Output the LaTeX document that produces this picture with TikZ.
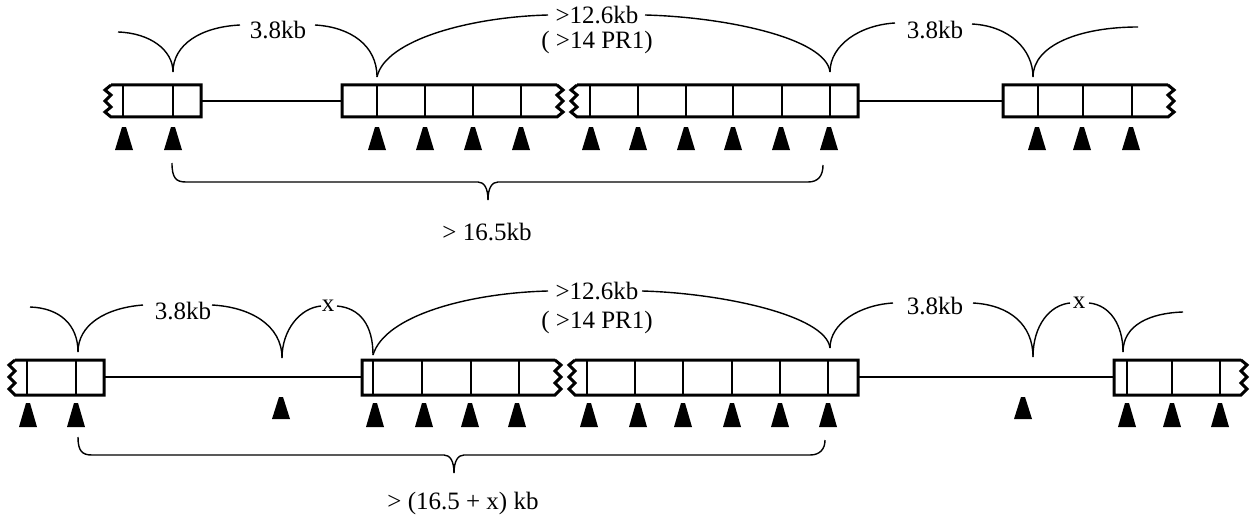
\documentclass[tikz,border=0pt]{standalone}
\usepackage{fontspec}
\setmainfont{Liberation Serif}
\begin{document}
\begin{tikzpicture}[x=0.5pt,y=-0.5pt,
  box/.style={line width=1.5pt,line join=miter},
  sep/.style={line width=1.2pt},
  wire/.style={line width=1.2pt},
  arc/.style={line width=0.7pt},
  lab/.style={font=\fontsize{12.5}{14}\selectfont,inner sep=0pt}]
\useasboundingbox (0,0) rectangle (1257,519);

% ===================== Row 1 =====================
% boxes
\draw[box] (111,85) -- (201,85) -- (201,117) -- (111,117) -- ++(-6,-5) -- ++(6,-5) -- ++(-6,-6) -- ++(6,-6) -- ++(-6,-5) -- ++(6,-5);
\draw[box] (557,85) -- (342,85) -- (342,117) -- (557,117) -- ++(6,-5) -- ++(-6,-5) -- ++(6,-6) -- ++(-6,-6) -- ++(6,-5) -- ++(-6,-5);
\draw[box] (577,85) -- (858,85) -- (858,117) -- (577,117) -- ++(-6,-5) -- ++(6,-5) -- ++(-6,-6) -- ++(6,-6) -- ++(-6,-5) -- ++(6,-5);
\draw[box] (1168,85) -- (1003,85) -- (1003,117) -- (1168,117) -- ++(6,-5) -- ++(-6,-5) -- ++(6,-6) -- ++(-6,-6) -- ++(6,-5) -- ++(-6,-5);
\foreach \x in {123,173,377,425,473,521,590,638,686,733,782,830,1038,1083,1132}
  \draw[sep] (\x,85) -- (\x,117);
\draw[wire] (201,101) -- (342,101);
\draw[wire] (858,101) -- (1003,101);
% triangles
\foreach \x in {124,173,377,425,473,521,591,638,686,733,781,829,1037,1082,1131}
  \fill (\x-9,150) -- (\x-2,127) -- (\x+2,127) -- (\x+9,150) -- cycle;
% labels
\node[lab] (a1) at (278,30) {3.8kb};
\node[lab] (b1) at (597,15) {>12.6kb};
\node[lab] (b1p) at (597,42) {( >14 PR1)};
\node[lab] (c1) at (935,30) {3.8kb};
\node[lab] (d1) at (487,232) {> 16.5kb};
% curves
\draw[arc] (118,32) .. controls (150,33) and (173,50) .. (173,72);
\draw[arc] (173,72) .. controls (173,45) and (200,27) .. (240,25);
\draw[arc] (315,25) .. controls (350,27) and (377,45) .. (377,77);
\draw[arc] (377,77) .. controls (385,40) and (470,17) .. (548,15);
\draw[arc] (645,15) .. controls (725,17) and (826,38) .. (830,72);
\draw[arc] (830,72) .. controls (830,45) and (860,25) .. (895,23);
\draw[arc] (972,24) .. controls (1010,26) and (1033,50) .. (1033,77);
\draw[arc] (1033,77) .. controls (1033,45) and (1080,27) .. (1138,27);
% brace
\draw[arc] (172,163) .. controls (172,178) and (176,182) .. (186,182) -- (478,182)
  .. controls (484,182) and (488,188) .. (488,200);
\draw[arc] (488,200) .. controls (488,188) and (492,182) .. (498,182) -- (808,182)
  .. controls (818,182) and (823,176) .. (823,165);

% ===================== Row 2 =====================
\draw[box] (15,360) -- (104,360) -- (104,395) -- (15,395) -- ++(-6,-6) -- ++(6,-6) -- ++(-6,-6) -- ++(6,-6) -- ++(-6,-6) -- ++(6,-5);
\draw[box] (555,360) -- (362,360) -- (362,395) -- (555,395) -- ++(6,-6) -- ++(-6,-6) -- ++(6,-6) -- ++(-6,-6) -- ++(6,-6) -- ++(-6,-5);
\draw[box] (575,360) -- (858,360) -- (858,395) -- (575,395) -- ++(-6,-6) -- ++(6,-6) -- ++(-6,-6) -- ++(6,-6) -- ++(-6,-6) -- ++(6,-5);
\draw[box] (1241,360) -- (1114,360) -- (1114,395) -- (1241,395) -- ++(6,-6) -- ++(-6,-6) -- ++(6,-6) -- ++(-6,-6) -- ++(6,-6) -- ++(-6,-5);
\foreach \x in {27,76,373,422,471,519,587,635,683,732,780,828,1127,1172,1220}
  \draw[sep] (\x,360) -- (\x,395);
\draw[wire] (104,377) -- (362,377);
\draw[wire] (858,377) -- (1114,377);
% triangles
\foreach \x in {28,76,375,424,470,517,589,638,683,732,780,828,1127,1172,1220}
  \fill (\x-9,427) -- (\x-2,403) -- (\x+2,403) -- (\x+9,427) -- cycle;
\foreach \x in {281,1023}
  \fill (\x-9,419) -- (\x-2,397) -- (\x+2,397) -- (\x+9,419) -- cycle;
% labels
\node[lab] (a2) at (183,311) {3.8kb};
\node[lab] (x2a) at (328,306) {x};
\node[lab] (b2) at (597,291) {>12.6kb};
\node[lab] (b2p) at (597,322) {( >14 PR1)};
\node[lab] (c2) at (935,306) {3.8kb};
\node[lab] (x2b) at (1079,303) {x};
\node[lab] (d2) at (463,503) {> (16.5 + x) kb};
% curves
\draw[arc] (30,307) .. controls (60,308) and (78,325) .. (78,352);
\draw[arc] (78,352) .. controls (78,325) and (105,308) .. (143,305);
\draw[arc] (212,305) .. controls (250,307) and (282,325) .. (282,358);
\draw[arc] (282,358) .. controls (282,330) and (300,308) .. (321,306);
\draw[arc] (337,306) .. controls (360,308) and (373,325) .. (373,355);
\draw[arc] (373,355) .. controls (385,315) and (470,293) .. (548,291);
\draw[arc] (642,291) .. controls (720,293) and (826,315) .. (830,348);
\draw[arc] (830,348) .. controls (830,323) and (860,305) .. (893,303);
\draw[arc] (973,303) .. controls (1010,305) and (1033,325) .. (1033,357);
\draw[arc] (1033,357) .. controls (1033,325) and (1050,305) .. (1070,303);
\draw[arc] (1089,303) .. controls (1110,305) and (1123,325) .. (1123,352);
\draw[arc] (1123,352) .. controls (1123,325) and (1150,313) .. (1183,312);
% brace
\draw[arc] (78,437) .. controls (78,451) and (82,455) .. (92,455) -- (444,455)
  .. controls (450,455) and (454,461) .. (454,473);
\draw[arc] (454,473) .. controls (454,461) and (458,455) .. (464,455) -- (810,455)
  .. controls (820,455) and (825,449) .. (825,440);
\end{tikzpicture}
\end{document}
